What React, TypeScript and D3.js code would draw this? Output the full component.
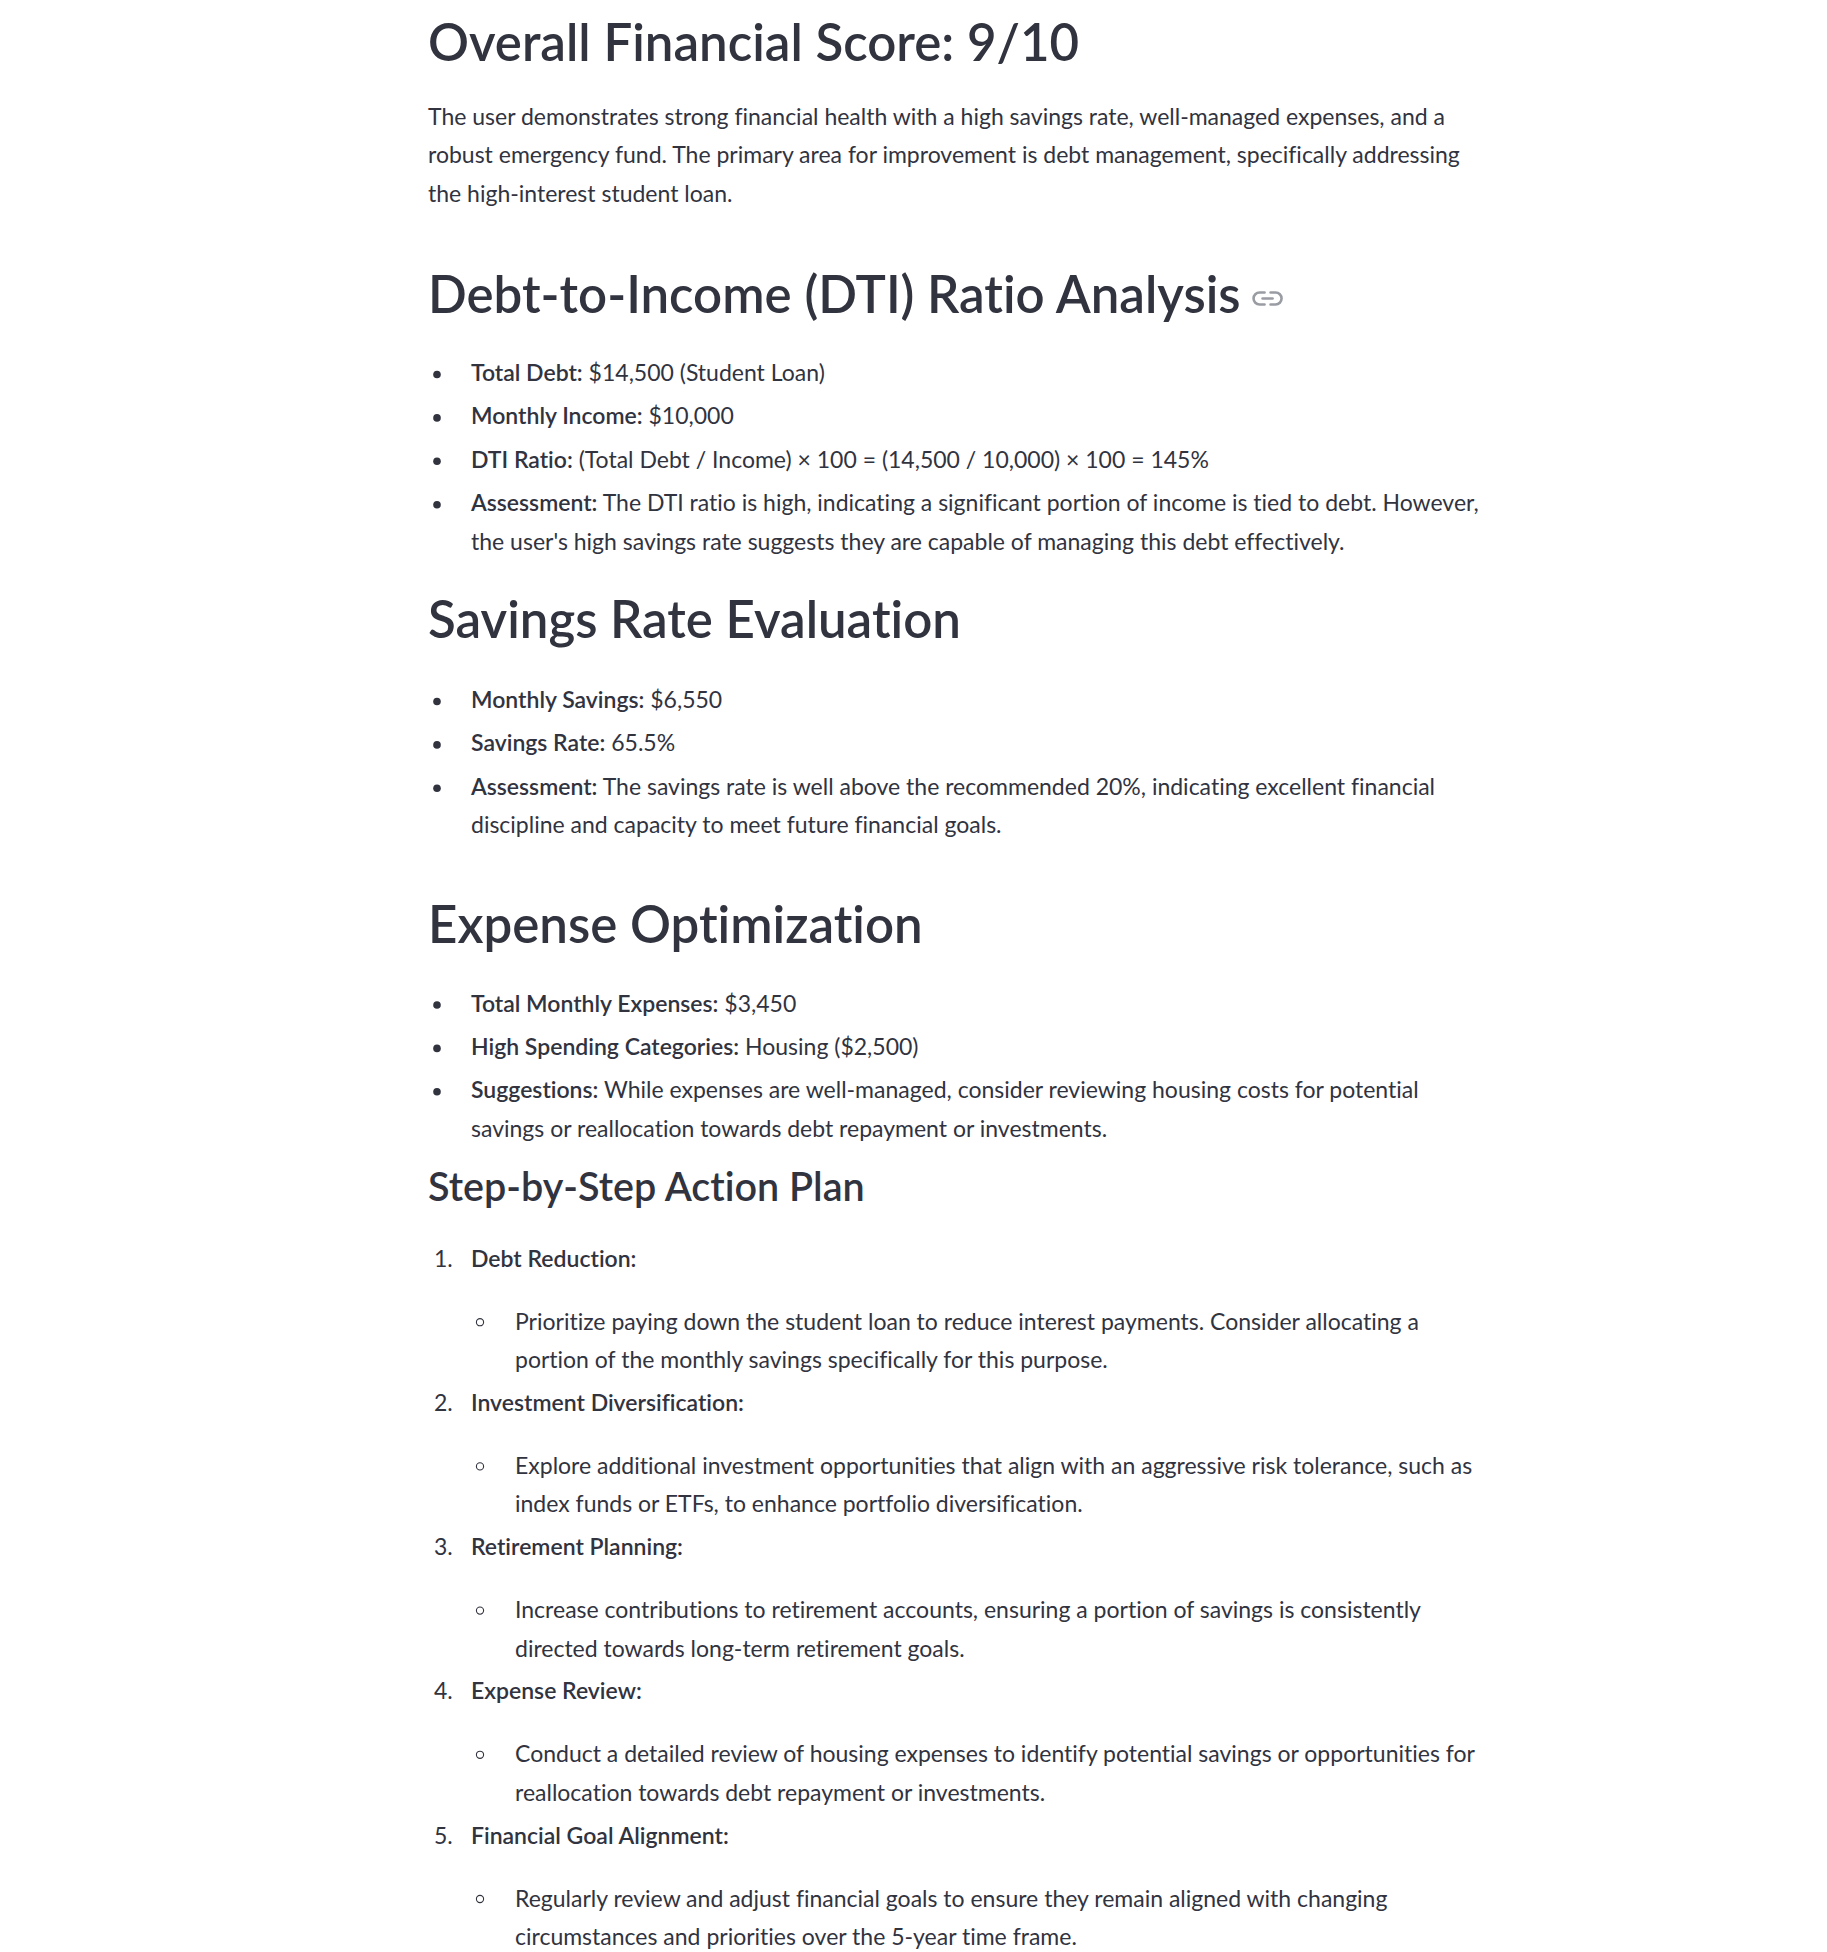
import { FC, useEffect, useRef } from 'react';
import * as d3 from 'd3';

// ---- content ----
const scoreTitle = 'Overall Financial Score: 9/10';
const scoreSummary = [
  'The user demonstrates strong financial health with a high savings rate, well-managed expenses, and a',
  'robust emergency fund. The primary area for improvement is debt management, specifically addressing',
  'the high-interest student loan.',
];

const dtiTitle = 'Debt-to-Income (DTI) Ratio Analysis';
const dtiLabels = ['Total Debt:', 'Monthly Income:', 'DTI Ratio:', 'Assessment:'];
const dtiTexts = [
  [' $14,500 (Student Loan)'],
  [' $10,000'],
  [' (Total Debt / Income) × 100 = (14,500 / 10,000) × 100 = 145%'],
  [
    ' The DTI ratio is high, indicating a significant portion of income is tied to debt. However,',
    "the user's high savings rate suggests they are capable of managing this debt effectively.",
  ],
];

const savingsTitle = 'Savings Rate Evaluation';
const savingsLabels = ['Monthly Savings:', 'Savings Rate:', 'Assessment:'];
const savingsTexts = [
  [' $6,550'],
  [' 65.5%'],
  [
    ' The savings rate is well above the recommended 20%, indicating excellent financial',
    'discipline and capacity to meet future financial goals.',
  ],
];

const expenseTitle = 'Expense Optimization';
const expenseLabels = ['Total Monthly Expenses:', 'High Spending Categories:', 'Suggestions:'];
const expenseTexts = [
  [' $3,450'],
  [' Housing ($2,500)'],
  [
    ' While expenses are well-managed, consider reviewing housing costs for potential',
    'savings or reallocation towards debt repayment or investments.',
  ],
];

const planTitle = 'Step-by-Step Action Plan';
const planSteps = [
  'Debt Reduction:',
  'Investment Diversification:',
  'Retirement Planning:',
  'Expense Review:',
  'Financial Goal Alignment:',
];
const planDetails = [
  [
    'Prioritize paying down the student loan to reduce interest payments. Consider allocating a',
    'portion of the monthly savings specifically for this purpose.',
  ],
  [
    'Explore additional investment opportunities that align with an aggressive risk tolerance, such as',
    'index funds or ETFs, to enhance portfolio diversification.',
  ],
  [
    'Increase contributions to retirement accounts, ensuring a portion of savings is consistently',
    'directed towards long-term retirement goals.',
  ],
  [
    'Conduct a detailed review of housing expenses to identify potential savings or opportunities for',
    'reallocation towards debt repayment or investments.',
  ],
  [
    'Regularly review and adjust financial goals to ensure they remain aligned with changing',
    'circumstances and priorities over the 5-year time frame.',
  ],
];

const WIDTH = 1827;
const HEIGHT = 1952;
const FONT = 'Lato, "Noto Sans", sans-serif';
const TEXT_COLOR = '#31333F';

const App: FC = () => {
  const svgRef = useRef<SVGSVGElement | null>(null);

  useEffect(() => {
    if (!svgRef.current) return;
    const svg = d3.select(svgRef.current);
    svg.selectAll('*').remove();

    const left = 428;
    const bulletX = 437;
    const itemX = 471;
    const subBulletX = 480;
    const subX = 515;
    const bodySize = 23;
    const h2Size = 51;
    const h3Size = 39.5;
    const lineH = 38.4;
    const itemGap = 43.4;

    const g = svg.append('g')
      .attr('font-family', FONT)
      .attr('fill', TEXT_COLOR)
      .style('font-variant-ligatures', 'none')
      .style('font-feature-settings', '"liga" 0, "clig" 0, "dlig" 0');

    const heading = (text: string, y: number, size: number) =>
      g.append('text')
        .attr('x', left)
        .attr('y', y)
        .attr('font-size', size)
        .attr('font-weight', 600)
        .text(text);

    const bodyLine = (x: number, y: number, label: string | null, text: string) => {
      const t = g.append('text')
        .attr('x', x)
        .attr('y', y)
        .attr('font-size', bodySize)
        .style('white-space', 'pre');
      if (label) t.append('tspan').attr('font-weight', 600).text(label);
      t.append('tspan').attr('font-weight', 400).text(text);
    };

    const bulletList = (labels: string[], texts: string[][], y0: number) => {
      let y = y0;
      labels.forEach((label, i) => {
        if (i > 0) y += itemGap;
        g.append('circle')
          .attr('cx', bulletX)
          .attr('cy', y - 6.5)
          .attr('r', 3.8)
          .attr('fill', TEXT_COLOR);
        texts[i].forEach((line, j) => {
          if (j > 0) y += lineH;
          bodyLine(itemX, y, j === 0 ? label : null, line);
        });
      });
      return y;
    };

    // summary
    let y = 61;
    heading(scoreTitle, y, h2Size);
    y += 64;
    scoreSummary.forEach((line, i) => {
      if (i > 0) y += lineH;
      bodyLine(left, y, null, line);
    });

    // DTI
    y += 110.7;
    const dtiHead = heading(dtiTitle, y, h2Size);
    const headEnd = left + (dtiHead.node() as SVGTextElement).getComputedTextLength();
    const linkX = headEnd + 13;
    const linkY = y - 14;
    const link = g.append('g')
      .attr('transform', `translate(${linkX},${linkY})`)
      .attr('fill', 'none')
      .attr('stroke', '#9a9ca4')
      .attr('stroke-width', 2.6)
      .attr('stroke-linecap', 'round');
    link.append('path').attr('d', 'M11,-6 H6 A6,6 0 0 0 6,6 H11');
    link.append('path').attr('d', 'M17,-6 H22 A6,6 0 0 1 22,6 H17');
    link.append('path').attr('d', 'M9,0 H19');

    y += 68.5;
    y = bulletList(dtiLabels, dtiTexts, y);

    // savings
    y += 88.4;
    heading(savingsTitle, y, h2Size);
    y += 70;
    y = bulletList(savingsLabels, savingsTexts, y);

    // expenses
    y += 109.8;
    heading(expenseTitle, y, h2Size);
    y += 68.5;
    y = bulletList(expenseLabels, expenseTexts, y);

    // action plan
    y += 64.3;
    heading(planTitle, y, h3Size);
    y += 65.7;
    planSteps.forEach((step, i) => {
      if (i > 0) y += 42.8;
      g.append('text')
        .attr('x', 434)
        .attr('y', y)
        .attr('font-size', bodySize)
        .text(`${i + 1}.`);
      bodyLine(itemX, y, step, '');
      y += 63;
      g.append('circle')
        .attr('cx', subBulletX)
        .attr('cy', y - 7.5)
        .attr('r', 3.6)
        .attr('fill', 'none')
        .attr('stroke', TEXT_COLOR)
        .attr('stroke-width', 1.1);
      planDetails[i].forEach((line, j) => {
        if (j > 0) y += lineH;
        bodyLine(subX, y, null, line);
      });
    });
  }, []);

  return (
    <svg
      ref={svgRef}
      width={WIDTH}
      height={HEIGHT}
      style={{ position: 'absolute', left: 0, top: 0, background: '#ffffff' }}
    />
  );
};

export default App;
